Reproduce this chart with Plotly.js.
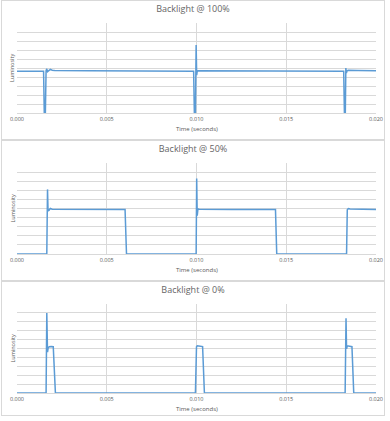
<!DOCTYPE html>
<html>
<head>
<meta charset="utf-8">
<script src="https://cdn.plot.ly/plotly-3.0.1.min.js"></script>
<style>
  html, body { margin: 0; padding: 0; background: #ffffff; width: 390px; height: 421px; overflow: hidden; }
  .panel { position: absolute; left: 1px; width: 384px; border: 1px solid #d9d9d9; box-sizing: border-box; background: #fff; }
</style>
</head>
<body>
<div id="p1" class="panel" style="top:0px;height:140px;"></div>
<div id="p2" class="panel" style="top:140px;height:141px;"></div>
<div id="p3" class="panel" style="top:281px;height:135px;"></div>
<script>
// Titles
const titles = ["Backlight @ 100%", "Backlight @ 50%", "Backlight @ 0%"];
const xTitle = "Time (seconds)";
const yTitle = "Luminosity";
const tickVals = [0, 0.005, 0.010, 0.015, 0.020];
const tickLabels = ["0.000", "0.005", "0.010", "0.015", "0.020"];

// Backlight @ 100%
const time100 = [0, 0.00148, 0.00152, 0.00158, 0.00162, 0.00166, 0.00170, 0.00176, 0.00186, 0.00196, 0.00210, 0.0040, 0.0070,
  0.00984, 0.00988, 0.00994, 0.00998, 0.01001, 0.01004, 0.01010, 0.0130, 0.0160,
  0.01820, 0.01824, 0.01829, 0.01832, 0.01835, 0.01839, 0.01845, 0.0190, 0.0200];
const lum100 = [4.65, 4.65, 0, 0, 4.7, 4.9, 4.6, 4.7, 4.85, 4.75, 4.72, 4.7, 4.7,
  4.65, 0, 0, 7.55, 4.2, 4.65, 4.7, 4.7, 4.68,
  4.65, 0, 0, 5.0, 4.45, 4.7, 4.75, 4.72, 4.7];

// Backlight @ 50%
const time50 = [0, 0.00166, 0.00170, 0.00173, 0.00178, 0.00186, 0.00196, 0.0030, 0.0045, 0.00602, 0.00610, 0.0080,
  0.00998, 0.01001, 0.01004, 0.01008, 0.01015, 0.0120, 0.01440, 0.01447, 0.0165,
  0.01836, 0.01840, 0.01846, 0.01855, 0.0190, 0.0200];
const lum50 = [0, 0, 7.1, 4.75, 4.8, 5.0, 4.92, 4.9, 4.88, 4.88, 0, 0,
  0, 8.3, 4.2, 4.95, 4.92, 4.9, 4.88, 0, 0,
  0, 4.85, 5.0, 4.95, 4.92, 4.9];

// Backlight @ 0%
const time0 = [0, 0.00162, 0.00166, 0.00170, 0.00174, 0.00180, 0.00190, 0.00202, 0.00214, 0.0060,
  0.00994, 0.01000, 0.01004, 0.01012, 0.01020, 0.01034, 0.01044, 0.0140,
  0.01828, 0.01833, 0.01836, 0.01840, 0.01848, 0.01858, 0.01866, 0.01876, 0.0200];
const lum0 = [0, 0, 9.0, 4.6, 5.1, 5.2, 5.22, 5.2, 0, 0,
  0, 5.2, 5.3, 5.28, 5.25, 5.22, 0, 0,
  0, 8.4, 4.95, 5.3, 5.28, 5.22, 5.2, 0, 0];

const FONT = "'Open Sans', Lato, sans-serif";
const TXT = "#595959";
const GRID = "#d9d9d9";
const LINE = "#5B9BD5";

function draw(id, title, xs, ys, h, mb) {
  const trace = { x: xs, y: ys, type: "scatter", mode: "lines",
    line: { color: LINE, width: 1.5 }, hoverinfo: "skip" };
  const layout = {
    width: 382, height: h - 2,
    margin: { l: 15, r: 8, t: 22, b: mb },
    paper_bgcolor: "#ffffff", plot_bgcolor: "#ffffff",
    showlegend: false,
    title: { text: title, font: { family: FONT, size: 9, color: "#666666", weight: "normal" }, x: 0.5, xanchor: "center", y: 1, yref: "container", yanchor: "top", pad: { t: 5 } },
    xaxis: { range: [0, 0.02], tickvals: tickVals, ticktext: tickLabels, showgrid: true, gridcolor: GRID, gridwidth: 1,
      zeroline: false, showline: true, linecolor: GRID, linewidth: 1, ticks: "", fixedrange: true,
      tickfont: { family: FONT, size: 5.5, color: TXT } },
    yaxis: { range: [0, 10], dtick: 1, showticklabels: false, showgrid: true, gridcolor: GRID, gridwidth: 1,
      zeroline: false, showline: false, ticks: "", fixedrange: true },
    annotations: [
      { text: xTitle, xref: "paper", yref: "paper", x: 0.5, y: 0, xanchor: "center", yanchor: "middle", yshift: -16,
        showarrow: false, font: { family: FONT, size: 6, color: TXT } },
      { text: yTitle, xref: "paper", yref: "paper", x: 0, y: 0.5, xanchor: "center", yanchor: "middle", xshift: -5,
        textangle: -90, showarrow: false, font: { family: FONT, size: 5.5, color: TXT } }
    ]
  };
  Plotly.newPlot(id, [trace], layout, { staticPlot: true, displayModeBar: false });
}

draw("p1", titles[0], time100, lum100, 140, 26);
draw("p2", titles[1], time50, lum50, 141, 26);
draw("p3", titles[2], time0, lum0, 135, 22);
</script>
</body>
</html>
